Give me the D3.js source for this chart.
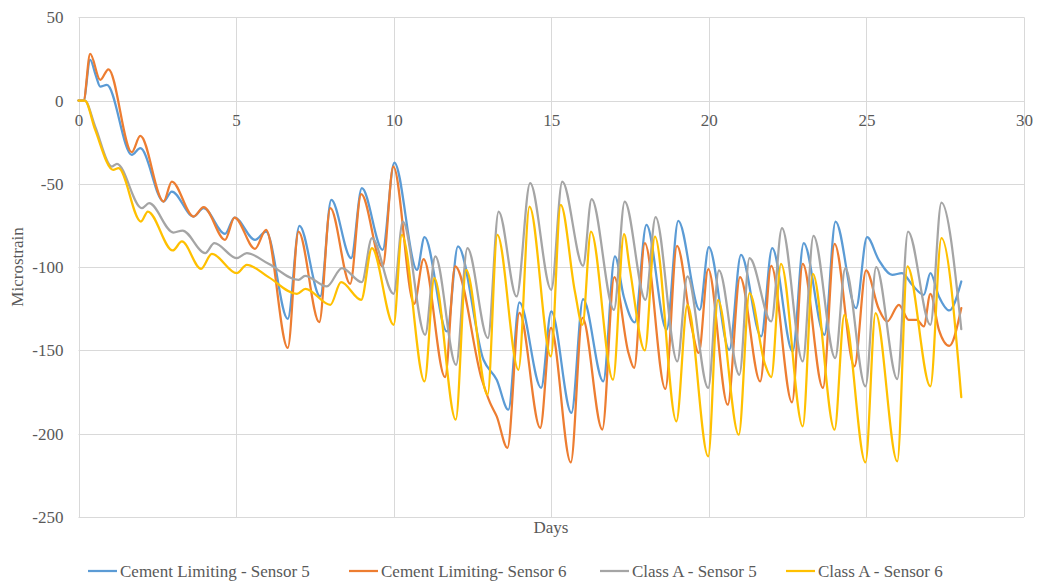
<!DOCTYPE html>
<html>
<head>
<meta charset="utf-8">
<script src="https://cdn.jsdelivr.net/npm/d3@7"></script>
<style>
  html, body { margin: 0; padding: 0; background: #fff; }
  svg { display: block; }
  text { font-family: "Liberation Serif", "Times New Roman", serif; fill: #595959; }
</style>
</head>
<body>
<svg id="chart" width="1046" height="585"></svg>
<script>
// Strain readings [day, microstrain] for each gauge
const cementSensor5 = [
  [0,0],[0.16,0],[0.37,24.4],[0.55,15],[0.69,8.4],[0.9,9.4],[1.69,-32.6],[1.96,-28.6],
  [2.7,-60.6],[2.96,-54.6],[3.65,-69.6],[3.97,-64.6],[4.65,-80],[4.95,-70.2],[5.6,-83.6],
  [5.95,-78.6],[6.64,-131],[7.01,-75.2],[7.67,-117.6],[8.02,-59.6],[8.65,-94.6],[8.99,-52.6],
  [9.65,-89.6],[10.02,-37.2],[10.74,-101.6],[10.98,-82],[11.69,-138.6],[12.04,-87.6],
  [12.85,-155.6],[13.27,-167.6],[13.64,-185.6],[13.99,-121.2],[14.68,-172.5],[15.0,-126.6],
  [15.64,-187.5],[16.01,-119.2],[16.65,-168.6],[17.02,-93.6],[17.3,-117.6],[17.65,-133.2],
  [18.02,-74.6],[18.66,-137.6],[19.03,-72.2],[19.71,-125.6],[20.0,-88],[20.65,-149.6],
  [21.02,-92.6],[21.66,-141.6],[22.01,-88.6],[22.66,-150.6],[23.01,-85.6],[23.67,-140.6],
  [24.02,-72.6],[24.67,-124.6],[25.02,-82],[25.39,-95.6],[25.82,-104.6],[26.13,-103.6],
  [26.45,-110.6],[26.82,-116.6],[27.03,-103.6],[27.3,-117.6],[27.63,-126],[28.01,-108.6]
];
const cementSensor6 = [
  [0,0],[0.16,0],[0.37,28],[0.69,12.4],[0.95,18.8],[1.69,-31],[1.96,-21.2],[2.7,-60.6],
  [2.96,-48.6],[3.65,-69.6],[3.97,-64],[4.65,-83.6],[4.95,-70.2],[5.6,-89],[5.95,-77.6],
  [6.64,-148.5],[6.98,-78.6],[7.64,-133],[7.99,-64.6],[8.62,-110],[8.97,-56.2],[9.65,-99.6],
  [9.99,-39.6],[10.65,-122],[10.95,-95.2],[11.63,-166],[11.95,-99.6],[12.8,-167.6],
  [13.06,-181.5],[13.27,-189.6],[13.61,-208.5],[13.99,-127.5],[14.65,-196.5],[14.99,-136.5],
  [15.62,-217.2],[15.99,-130.5],[16.62,-197.5],[17.0,-106],[17.45,-151.5],[17.63,-160.5],
  [17.97,-85.6],[18.62,-173.1],[18.99,-87.2],[19.45,-135.6],[19.68,-151.5],[19.98,-101.2],
  [20.6,-182.6],[20.99,-106],[21.63,-168.6],[21.98,-99.2],[22.64,-181.2],[22.98,-98],
  [23.62,-172.5],[23.99,-86],[24.62,-159.6],[24.99,-102],[25.39,-125],[25.66,-132.6],
  [26.03,-122.6],[26.34,-131.6],[26.6,-131.6],[26.82,-135.6],[27.03,-116],[27.3,-137.6],
  [27.63,-147.2],[28.01,-124.6]
];
const classASensor5 = [
  [0,0],[0.2,0],[0.53,-15.6],[1.06,-39.6],[1.22,-38],[2.01,-64.6],[2.24,-61.6],[3.01,-79.2],
  [3.3,-78],[4.02,-91.6],[4.31,-85.6],[5.02,-94.6],[5.34,-91.6],[6.03,-98],[6.98,-107.6],
  [7.19,-105.2],[7.88,-111.6],[8.36,-100.6],[8.99,-109],[9.31,-82.6],[10.0,-116],[10.29,-72.6],
  [11.0,-140.6],[11.32,-93.6],[11.98,-158.6],[12.34,-88.6],[12.99,-142.6],[13.33,-66.6],
  [13.9,-117.6],[14.33,-49.6],[15.0,-113.6],[15.35,-48.6],[16.01,-99.2],[16.28,-59.2],
  [16.99,-125.6],[17.33,-60.6],[17.99,-119.6],[18.31,-70],[19.0,-156.6],[19.32,-105.6],
  [19.98,-172.5],[20.32,-102],[20.97,-164.6],[21.29,-94.6],[21.98,-132.6],[22.32,-76.6],
  [22.98,-156.6],[23.32,-81.2],[24.01,-154.6],[24.33,-100.6],[24.97,-171.6],[25.31,-100],
  [25.98,-167.2],[26.32,-78.6],[27.03,-134.6],[27.38,-61.2],[28.01,-137.2]
];
const classASensor6 = [
  [0,0],[0.2,0],[0.53,-17.6],[1.1,-41.6],[1.27,-40.6],[1.98,-72.6],[2.2,-66.6],[2.99,-90],
  [3.28,-84.6],[3.89,-101],[4.23,-92],[5.02,-103.6],[5.34,-98.6],[6.03,-106],[6.93,-116],
  [7.2,-113],[7.99,-122.6],[8.33,-109],[8.97,-119.6],[9.31,-88.6],[10.0,-134.6],[10.26,-80.6],
  [10.98,-168.6],[11.29,-106.6],[11.97,-191.6],[12.3,-101.6],[12.98,-176.6],[13.29,-80.6],
  [13.96,-161.6],[14.31,-63.6],[14.99,-153.6],[15.3,-62.6],[15.75,-114.6],[15.99,-134.6],
  [16.26,-78.6],[16.96,-167.6],[17.31,-80.2],[17.49,-100.6],[17.97,-150],[18.29,-81.6],
  [18.97,-192.6],[19.32,-122.6],[19.98,-213.6],[20.29,-119.6],[20.95,-200.6],[21.29,-115.6],
  [21.77,-157.6],[21.98,-166],[22.29,-98],[22.98,-195.6],[23.3,-104],[23.99,-197.6],
  [24.3,-128.6],[24.97,-217.2],[25.29,-127.6],[25.98,-216.6],[26.3,-99.6],[27.03,-171.6],
  [27.38,-82.6],[28.01,-178]
];

const seriesNames = ["Cement Limiting - Sensor 5", "Cement Limiting- Sensor 6", "Class A - Sensor 5", "Class A - Sensor 6"];
const seriesColors = ["#5B9BD5", "#ED7D31", "#A5A5A5", "#FFC000"];
const xTicks = [0, 5, 10, 15, 20, 25, 30];
const yTicks = [50, 0, -50, -100, -150, -200, -250];

const allSeries = [cementSensor5, cementSensor6, classASensor5, classASensor6];

const svg = d3.select("#chart");
const plot = { left: 78.5, right: 1024, top: 17.3, bottom: 517 };
const fontSize = 17;
// plain hyphen for negatives
const fmt = d => String(d);

const x = d3.scaleLinear().domain([0, 30]).range([plot.left, plot.right]);
const y = d3.scaleLinear().domain([-250, 50]).range([plot.bottom, plot.top]);

// gridlines
const grid = svg.append("g").attr("stroke", "#D9D9D9").attr("stroke-width", 1);
grid.selectAll("line.h").data(yTicks).join("line")
  .attr("x1", plot.left).attr("x2", plot.right)
  .attr("y1", d => Math.round(y(d)) + 0.5).attr("y2", d => Math.round(y(d)) + 0.5);
grid.selectAll("line.v").data(xTicks).join("line")
  .attr("y1", plot.top).attr("y2", plot.bottom)
  .attr("x1", d => Math.round(x(d)) + 0.5).attr("x2", d => Math.round(x(d)) + 0.5);

// y axis labels
const yAxis = d3.axisLeft(y).tickValues(yTicks).tickFormat(fmt).tickSize(0).tickPadding(15);
const gy = svg.append("g").attr("transform", `translate(${plot.left},0)`).call(yAxis);
gy.select(".domain").remove();
gy.selectAll("text").attr("font-size", fontSize).attr("font-family", "Liberation Serif").attr("fill", "#595959");

// x axis labels sit beneath the zero line
const xAxis = d3.axisBottom(x).tickValues(xTicks).tickFormat(fmt).tickSize(0).tickPadding(13);
const gx = svg.append("g").attr("transform", `translate(0,${y(0)})`).call(xAxis);
gx.select(".domain").remove();
gx.selectAll("text").attr("font-size", fontSize).attr("font-family", "Liberation Serif").attr("fill", "#595959");

// series lines
const line = d3.line()
  .x(d => x(d[0]))
  .y(d => y(d[1]))
  .curve(d3.curveMonotoneX);

svg.append("g").selectAll("path").data(allSeries).join("path")
  .attr("d", line)
  .attr("fill", "none")
  .attr("stroke", (d, i) => seriesColors[i])
  .attr("stroke-width", 2.25)
  .attr("stroke-linejoin", "round")
  .attr("stroke-linecap", "round");

// axis titles
svg.append("text")
  .attr("x", 551).attr("y", 533)
  .attr("text-anchor", "middle")
  .attr("font-size", fontSize)
  .text("Days");
svg.append("text")
  .attr("transform", "translate(23,267) rotate(-90)")
  .attr("text-anchor", "middle")
  .attr("font-size", fontSize)
  .text("Microstrain");

// legend
const legendX = [88, 349, 600, 786];
const legend = svg.append("g");
seriesNames.forEach((name, i) => {
  const g = legend.append("g").attr("transform", `translate(${legendX[i]},571)`);
  g.append("line").attr("x1", 0).attr("x2", 29).attr("y1", 0).attr("y2", 0)
    .attr("stroke", seriesColors[i]).attr("stroke-width", 2.25);
  g.append("text").attr("x", 32).attr("y", 6).attr("font-size", fontSize).text(name);
});
</script>
</body>
</html>
